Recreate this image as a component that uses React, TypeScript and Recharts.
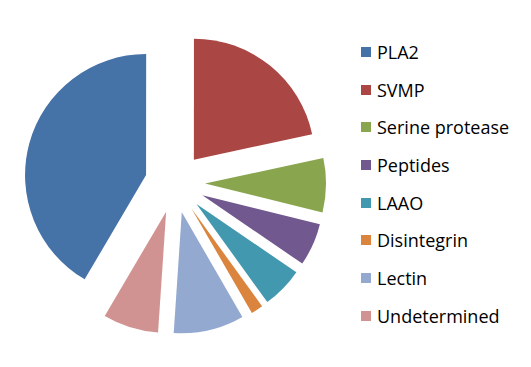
import React from "react";
import { PieChart, Pie, Cell, Sector, Legend } from "recharts";

const categories = ["PLA2", "SVMP", "Serine protease", "Peptides", "LAAO", "Disintegrin", "Lectin", "Undetermined"];
const values = [41.5, 21.6, 7.2, 5.7, 5.5, 1.6, 9.4, 7.4];
const colors = ["#4572A7", "#AA4643", "#89A54E", "#71588F", "#4198AF", "#DB843D", "#93A9CF", "#D19392"];

const data = categories.map((name, i) => ({ name, value: values[i] }));

const RAD = Math.PI / 180;
const EXPLODE = 30;

const ExplodedSector = (props: any) => {
  const { cx, cy, midAngle } = props;
  const dx = EXPLODE * Math.cos(midAngle * RAD);
  const dy = -EXPLODE * Math.sin(midAngle * RAD);
  return <Sector {...props} cx={cx + dx} cy={cy + dy} stroke="none" />;
};

const LegendContent = () => {
  return (
    <div style={{ fontFamily: "'Open Sans', sans-serif", fontSize: 18, color: "#000" }}>
      {categories.map((name, i) => (
        <div key={name} style={{ height: 37.7, display: "flex", alignItems: "center" }}>
          <div style={{ width: 10, height: 10, background: colors[i], marginRight: 6, flexShrink: 0 }} />
          <span style={{ whiteSpace: "nowrap", lineHeight: "24px" }}>{name}</span>
        </div>
      ))}
    </div>
  );
};

export default function App() {
  return (
    <PieChart width={515} height={351}>
      <Pie
        data={data}
        dataKey="value"
        nameKey="name"
        cx={162}
        cy={170}
        outerRadius={121}
        startAngle={-120.5}
        endAngle={-480.5}
        shape={ExplodedSector}
        isAnimationActive={false}
        stroke="none"
      >
        {data.map((d, i) => (
          <Cell key={d.name} fill={colors[i]} />
        ))}
      </Pie>
      <Legend
        layout="vertical"
        align="right"
        verticalAlign="top"
        content={LegendContent}
        wrapperStyle={{ position: "absolute", left: 353, top: 25, width: 160 }}
      />
    </PieChart>
  );
}
